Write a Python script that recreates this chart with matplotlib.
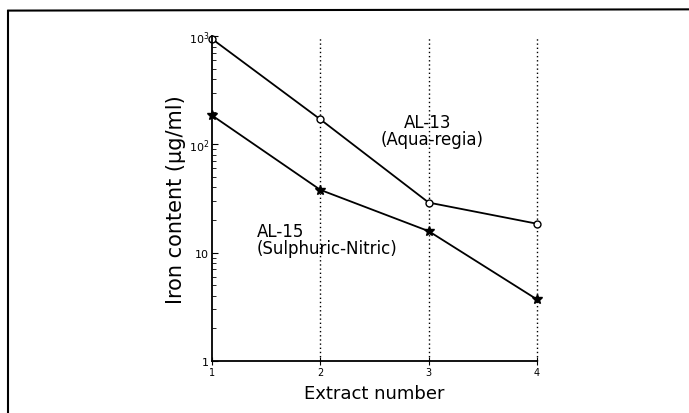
import matplotlib.pyplot as plt
from matplotlib.lines import Line2D

# datos
extract = [1, 2, 3, 4]
al13 = [940, 170, 29, 18.5]     # AL-13 (Aqua-regia)
al15 = [185, 38, 15.8, 3.7]     # AL-15 (Sulphuric-Nitric)
ytick_vals = [1, 10, 100, 1000]
ytick_labels = ['1', '10', '10$^2$', '10$^3$']

fig = plt.figure(figsize=(6.89, 4.14), dpi=100)
ax = fig.add_axes([0.3077, 0.1256, 0.4717, 0.785])

for x in extract[1:]:
    ax.axvline(x, color='black', ls=(0, (1, 2)), lw=1.0, clip_on=False)

ax.plot(extract, al13, color='black', lw=1.3, marker='o', ms=5,
        mfc='white', mec='black', mew=1, clip_on=False)
ax.plot(extract, al15, color='black', lw=1.3, marker='*', ms=7,
        mfc='black', mec='black', clip_on=False)

ax.set_yscale('log')
ax.set_xlim(1, 4)
ax.set_ylim(1, 1000)
ax.set_xticks(extract)
ax.set_xticklabels([str(e) for e in extract], fontsize=7)
ax.set_yticks(ytick_vals)
ax.set_yticklabels(ytick_labels, fontsize=8)
ax.tick_params(axis='y', which='both', direction='in', length=4, pad=2)
ax.tick_params(axis='y', which='minor', length=3)
ax.tick_params(axis='x', direction='inout', length=6, pad=1)

ax.spines['top'].set_visible(False)
ax.spines['right'].set_visible(False)
ax.spines['left'].set_linewidth(1.3)
ax.spines['bottom'].set_linewidth(1.3)

ax.set_xlabel('Extract number', fontsize=13, labelpad=5)
ax.set_ylabel('Iron content (\u03bcg/ml)', fontsize=15, labelpad=2)

ax.text(2.99, 161, 'AL-13', fontsize=12, ha='center', va='center')
ax.text(3.03, 112, '(Aqua-regia)', fontsize=12, ha='center', va='center')
ax.text(1.41, 15.9, 'AL-15', fontsize=12, ha='left', va='center')
ax.text(1.41, 11.0, '(Sulphuric-Nitric)', fontsize=12, ha='left', va='center')

# marco exterior escaneado
fig.add_artist(Line2D([0.012, 0.012], [0.0, 0.972], color='black', lw=1.5,
                      transform=fig.transFigure))
fig.add_artist(Line2D([0.012, 1.0], [0.972, 0.975], color='black', lw=1.5,
                      transform=fig.transFigure))

plt.savefig('out.png', dpi=100)
